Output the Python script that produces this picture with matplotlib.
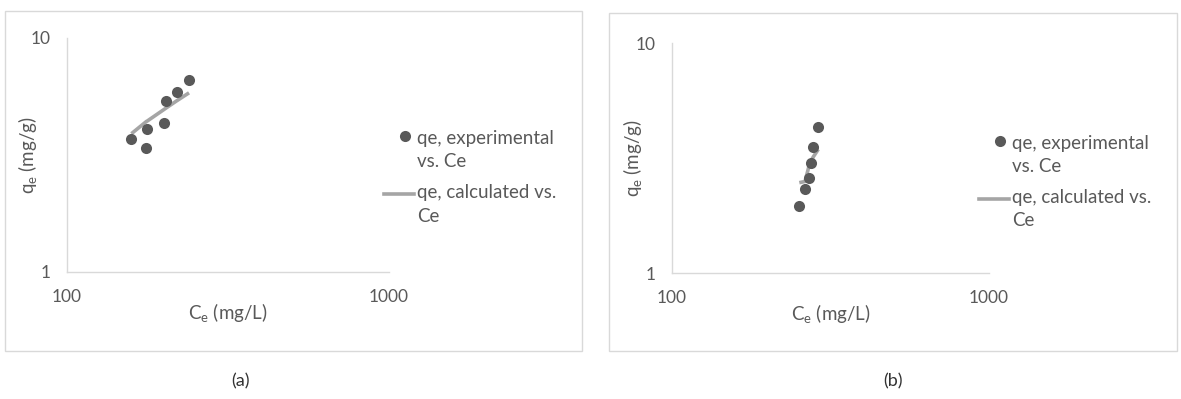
import numpy as np
import matplotlib
matplotlib.use("Agg")
import matplotlib.pyplot as plt
from matplotlib.patches import Rectangle
from matplotlib.lines import Line2D
from matplotlib.legend_handler import HandlerLine2D

plt.rcParams['font.family'] = ['Lato', 'DejaVu Sans']

# (a) Freundlich fit
ce_a = [158.5, 176.5, 177.2, 199.7, 203.5, 219.6, 239.3]
qe_exp_a = [3.69, 3.40, 4.07, 4.35, 5.40, 5.86, 6.62]
qe_cal_a = [3.90, 4.40, 4.41, 4.94, 5.03, 5.40, 5.83]

# (b)
ce_b = [252.1, 262.8, 271.1, 273.8, 279.1, 289.4]
qe_exp_b = [1.96, 2.32, 2.58, 3.00, 3.52, 4.33]
qe_cal_b = [2.47, 2.50, 2.95, 3.05, 3.20, 3.45]

xticks = [100, 1000]
yticks = [1, 10]
xlab = 'C$_\\mathregular{e}$ (mg/L)'
ylab = 'q$_\\mathregular{e}$ (mg/g)'
leg_exp = 'qe, experimental\nvs. Ce'
leg_cal = 'qe, calculated vs.\nCe'

W, H = 1181, 399
txt = '#595959'
dot = '#595959'
fit = '#A5A5A5'
axc = '#D9D9D9'


# legend handle sits on the first text line (Excel style), not the middle
class FirstLine(HandlerLine2D):
    def __init__(self, dx=0.0, dy=8.6, **kw):
        super().__init__(**kw)
        self.dx, self.dy = dx, dy

    def create_artists(self, legend, orig_handle, xdescent, ydescent,
                       width, height, fontsize, trans):
        arts = super().create_artists(legend, orig_handle, xdescent, ydescent,
                                      width, height, fontsize, trans)
        for a in arts:
            a.set_xdata(np.asarray(a.get_xdata()) + self.dx)
            a.set_ydata(np.asarray(a.get_ydata()) + self.dy)
        return arts


fig = plt.figure(figsize=(W/100, H/100), dpi=100)

def px(l, t, r, b):
    return [l/W, 1-b/H, (r-l)/W, (b-t)/H]

# panel frames
for l, t, r, b in [(5, 11, 582, 351), (609, 13, 1177, 351)]:
    fig.patches.append(Rectangle((l/W, 1-b/H), (r-l)/W, (b-t)/H, transform=fig.transFigure,
                                 fill=False, edgecolor=axc, lw=1.0))

def panel(box, ce, qe, qc, leg_xy, ylab_x):
    ax = fig.add_axes(px(*box))
    ax.plot(ce, qc, '-', color=fit, lw=2.6, solid_capstyle='butt', zorder=2)
    ax.plot(ce, qe, 'o', color=dot, ms=8, mec='none', zorder=3)
    ax.set_xscale('log')
    ax.set_yscale('log')
    ax.set_xlim(100, 1000)
    ax.set_ylim(1, 10)
    ax.set_xticks(xticks)
    ax.set_xticklabels([str(v) for v in xticks])
    ax.set_yticks(yticks)
    ax.set_yticklabels([str(v) for v in yticks])
    ax.minorticks_off()
    ax.tick_params(length=0, labelsize=12.5, colors=txt)
    ax.tick_params(axis='x', pad=12)
    ax.tick_params(axis='y', pad=12)
    for s in ['top', 'right']:
        ax.spines[s].set_visible(False)
    for s in ['left', 'bottom']:
        ax.spines[s].set_color(axc)
        ax.spines[s].set_linewidth(1.0)
    ax.set_xlabel(xlab, fontsize=13.5, color=txt, labelpad=-2)
    ax.set_ylabel(ylab, fontsize=13.5, color=txt)
    ax.yaxis.set_label_coords(ylab_x, 0.5)
    h_exp = Line2D([], [], ls='none', marker='o', color=dot, ms=8, mec='none')
    h_cal = Line2D([], [], color=fit, lw=2.6)
    leg = ax.legend([h_exp, h_cal], [leg_exp, leg_cal], loc='center left', bbox_to_anchor=leg_xy,
                    frameon=False, fontsize=13.5, labelcolor=txt, handlelength=1.6,
                    handletextpad=0.15, labelspacing=0.75, borderpad=0, borderaxespad=0,
                    handler_map={h_exp: FirstLine(dx=4.0, dy=10.5), h_cal: FirstLine(dy=8.0)})
    for t in leg.get_texts():
        t.set_linespacing(1.45)
    return ax

panel((67, 38, 389, 272), ce_a, qe_exp_a, qe_cal_a, (0.985, 0.405), -0.085)
panel((672, 43, 989, 273), ce_b, qe_exp_b, qe_cal_b, (0.97, 0.395), -0.085)

fig.text(240/W, 1-381/H, '(a)', ha='center', va='center', fontsize=13, color='#333333')
fig.text(893/W, 1-381/H, '(b)', ha='center', va='center', fontsize=13, color='#333333')

fig.savefig('out.png', dpi=100, facecolor='white')
